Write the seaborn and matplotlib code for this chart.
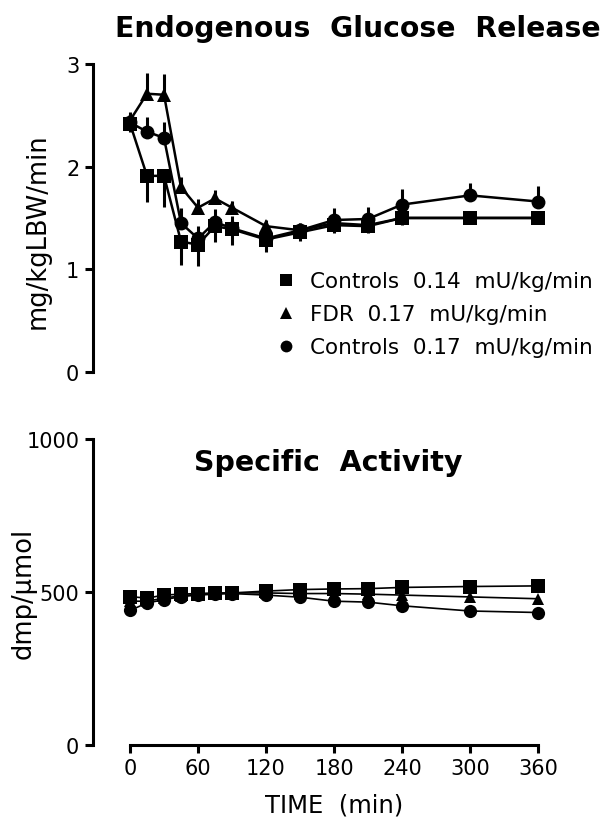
import numpy as np
import pandas as pd
import matplotlib
matplotlib.use("Agg")
import matplotlib.pyplot as plt
from matplotlib.lines import Line2D
import seaborn as sns

# time points (min)
time = [0, 15, 30, 45, 60, 75, 90, 120, 150, 180, 210, 240, 300, 360]
groups = ["Controls 0.14 mU/kg/min", "FDR 0.17 mU/kg/min", "Controls 0.17 mU/kg/min"]

# endogenous glucose release, mg/kgLBW/min
egr_ctl014 = [2.42, 1.91, 1.91, 1.27, 1.24, 1.42, 1.39, 1.29, 1.36, 1.43, 1.42, 1.50, 1.50, 1.50]
egr_fdr017 = [2.45, 2.71, 2.70, 1.80, 1.60, 1.69, 1.60, 1.42, 1.38, 1.45, 1.43, 1.50, 1.50, 1.50]
egr_ctl017 = [2.43, 2.34, 2.28, 1.45, 1.30, 1.46, 1.40, 1.30, 1.38, 1.48, 1.49, 1.63, 1.72, 1.66]
egr_se_ctl014 = [0.08, 0.25, 0.30, 0.23, 0.21, 0.15, 0.15, 0.12, 0.08, 0.08, 0.07, 0.07, 0.06, 0.06]
egr_se_fdr017 = [0.08, 0.20, 0.20, 0.10, 0.08, 0.08, 0.07, 0.06, 0.06, 0.06, 0.06, 0.06, 0.06, 0.06]
egr_se_ctl017 = [0.07, 0.14, 0.15, 0.15, 0.12, 0.13, 0.12, 0.08, 0.07, 0.12, 0.12, 0.15, 0.12, 0.15]

# specific activity, dmp/umol
sa_ctl014 = [485, 480, 490, 493, 495, 497, 497, 503, 508, 510, 511, 515, 518, 520]
sa_fdr017 = [470, 470, 480, 488, 492, 495, 497, 497, 495, 495, 493, 490, 484, 478]
sa_ctl017 = [440, 464, 475, 485, 490, 493, 495, 490, 483, 470, 467, 455, 438, 433]
sa_se = [8, 6, 6, 6, 6, 6, 6, 8, 8, 10, 10, 10, 15, 15]

sns.set_style("ticks")
plt.rcParams['font.family'] = ['DejaVu Sans']
plt.rcParams['text.color'] = 'black'
plt.rcParams['axes.labelcolor'] = 'black'

markers = {groups[0]: "s", groups[1]: "^", groups[2]: "o"}
msize = {groups[0]: 10, groups[1]: 9.5, groups[2]: 10}

fig = plt.figure(figsize=(6.03, 8.37), dpi=100)
ax1 = fig.add_axes([0.2156, 0.5544, 0.6766, 0.368])
ax2 = fig.add_axes([0.2156, 0.1087, 0.6766, 0.3656])

def draw(ax, vals, ses, dirs, lw, ms_scale):
    rows = []
    for g, v in zip(groups, vals):
        for t, y in zip(time, v):
            rows.append({"time": t, "value": y, "group": g})
    df = pd.DataFrame(rows)
    for g, v, se, d in zip(groups, vals, ses, dirs):
        se = np.array(se)
        yerr = [se, np.zeros_like(se)] if d == "down" else [np.zeros_like(se), se]
        ax.errorbar(time, v, yerr=yerr, fmt="none", ecolor="black", elinewidth=2.2, capsize=0,
                    clip_on=False, zorder=2)
    for g in groups:
        sub = df[df.group == g]
        sns.lineplot(data=sub, x="time", y="value", ax=ax, color="black", lw=lw,
                     marker=markers[g], markersize=msize[g] * ms_scale, markeredgewidth=0,
                     clip_on=False, zorder=3, legend=False)

draw(ax1, [egr_ctl014, egr_fdr017, egr_ctl017],
     [egr_se_ctl014, egr_se_fdr017, egr_se_ctl017], ["down", "up", "up"], 1.8, 1.0)
draw(ax2, [sa_ctl014, sa_fdr017, sa_ctl017], [sa_se, sa_se, sa_se], ["up", "down", "down"], 1.2, 0.95)

for ax in (ax1, ax2):
    ax.set_xlim(0, 360)
    sns.despine(ax=ax)
    ax.spines['left'].set_position(('outward', 27))
    ax.spines['left'].set_linewidth(2.2)
    ax.spines['bottom'].set_linewidth(2.2)
    ax.spines['left'].set_color("black")
    ax.spines['bottom'].set_color("black")
    ax.tick_params(width=2.2, length=6, labelsize=15, colors="black")
    ax.set_xlabel("")
    ax.set_ylabel("")

ax1.set_ylim(0, 3)
ax1.set_yticks([0, 1, 2, 3])
ax1.spines['bottom'].set_visible(False)
ax1.tick_params(axis='x', bottom=False, labelbottom=False)

ax2.set_ylim(0, 1000)
ax2.set_yticks([0, 500, 1000])
ax2.set_xticks([0, 60, 120, 180, 240, 300, 360])

ax1.set_ylabel("mg/kgLBW/min", fontsize=18.5)
ax1.yaxis.set_label_coords(-0.195, 0.46)
ax2.set_ylabel("dmp/\u00b5mol", fontsize=18.5)
ax2.yaxis.set_label_coords(-0.228, 0.5)
ax2.set_xlabel("TIME  (min)", fontsize=17.5, labelpad=10)

fig.text(0.594, 0.965, "Endogenous  Glucose  Release", ha="center", va="center",
         fontsize=20.3, fontweight="bold")
ax2.text(0.485, 0.925, "Specific  Activity", transform=ax2.transAxes, ha="center", va="center",
         fontsize=20.5, fontweight="bold")

handles = [Line2D([], [], color="black", marker=markers[g], linestyle="none",
                  markersize=msize[g] * 0.85, markeredgewidth=0) for g in groups]
labels = [g.replace(" ", "  ") for g in groups]
ax1.legend(handles, labels, loc="upper left", bbox_to_anchor=(0.33, 0.355), frameon=False,
           fontsize=15.5, handletextpad=0.5, handlelength=1.2, labelspacing=0.6,
           borderaxespad=0)

fig.savefig("out.png", dpi=100)
